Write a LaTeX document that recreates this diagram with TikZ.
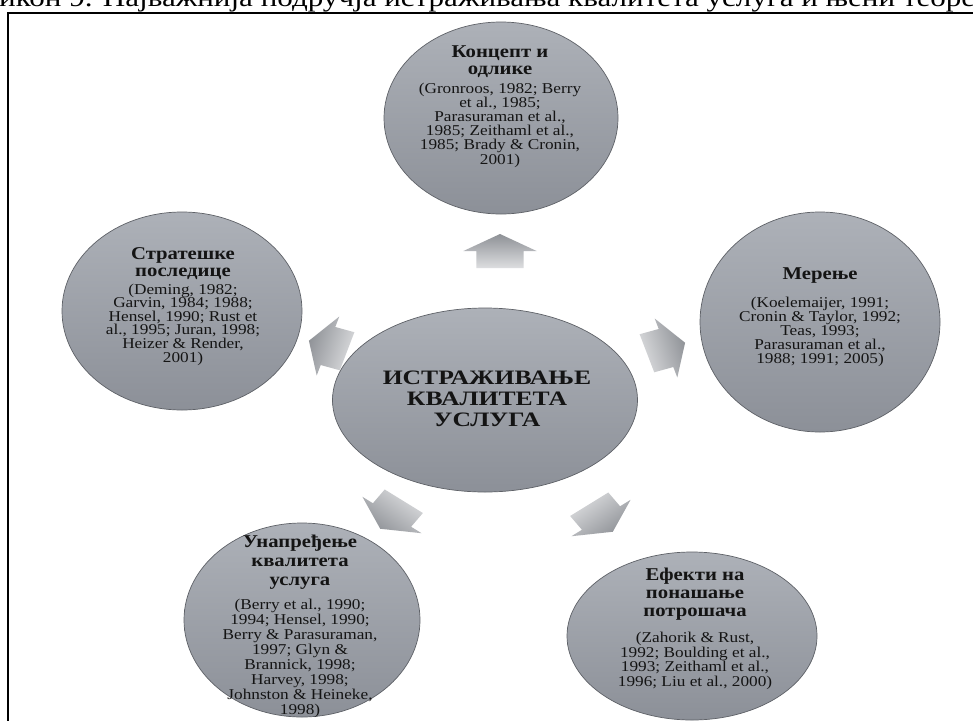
\documentclass[tikz,border=0pt]{standalone}
\usepackage{fontspec}
\setmainfont{Liberation Serif}[FakeStretch=1.15]
\newfontfamily\widefont{Liberation Serif}[FakeStretch=1.25]
\usetikzlibrary{shapes.geometric}
\definecolor{ellA}{HTML}{ADB1B8}
\definecolor{ellB}{HTML}{8C9098}
\definecolor{ellLine}{HTML}{5E6167}
\definecolor{arrDark}{HTML}{8E9196}
\definecolor{arrLight}{HTML}{DDDEE0}
\definecolor{ink}{HTML}{141414}
\newcommand{\radarrow}[3]{%
  \begin{scope}[shift={(#1,#2)}, xscale=1.18, rotate=#3]
    \shade[top color=arrDark, bottom color=arrLight, shading angle=#3-90]
      (17,0) -- (0,31) -- (0,20) -- (-17,20) -- (-17,-20) -- (0,-20) -- (0,-31) -- cycle;
  \end{scope}}
\begin{document}
\begin{tikzpicture}[x=1pt,y=-1pt,
  bubble/.style={ellipse, draw=ellLine, line width=0.7pt, top color=ellA, bottom color=ellB, inner sep=0pt},
  hd/.style={align=center, inner sep=0pt, text=ink, anchor=base},
  refs/.style={align=center, inner sep=0pt, text=ink, anchor=base},
  ]
\useasboundingbox (0,0) rectangle (973,720);
\clip (0,0) rectangle (973,720);
\fill[white] (0,0) rectangle (973,720);
% caption (cut at top)
\node (caption) [anchor=base west, inner sep=0pt, text=black] at (-1,6)
  {\resizebox{976pt}{\height}{\fontsize{26}{26}\selectfont икон 9. Најважнија подручја истраживања квалитета услуга и њени теоре}};
% frame
\draw[line width=2pt] (8,13) rectangle (990,740);
% ellipses
\node (concept) [bubble, minimum width=234pt, minimum height=192pt] at (501,118) {};
\node (measure) [bubble, minimum width=240pt, minimum height=220pt] at (820,322) {};
\node (strat) [bubble, minimum width=240pt, minimum height=198pt] at (182,311) {};
\node (center) [bubble, minimum width=305pt, minimum height=184pt] at (485,400) {};
\node (improve) [bubble, minimum width=236pt, minimum height=194pt] at (302,620) {};
\node (effect) [bubble, minimum width=250pt, minimum height=168pt] at (692,636) {};
% arrows
\radarrow{500}{251}{90}
\radarrow{666}{348}{18}
\radarrow{328}{346}{162}
\radarrow{601}{518}{-54}
\radarrow{392}{515}{-126}
% texts (anchor = baseline of last line)
\node (tc) [hd, font=\fontsize{18}{17}\bfseries\selectfont] at (500,74) {Концепт и\\одлике};
\node (rc) [refs, font=\fontsize{15}{14.2}\selectfont] at (500,164) {(Gronroos, 1982; Berry\\et al., 1985;\\Parasuraman et al.,\\1985; Zeithaml et al.,\\1985; Brady \& Cronin,\\2001)};
\node (tm) [hd, font=\fontsize{18}{17}\bfseries\selectfont] at (820,279) {Мерење};
\node (rm) [refs, font=\fontsize{15}{14}\selectfont] at (820,363) {(Koelemaijer, 1991;\\Cronin \& Taylor, 1992;\\Teas, 1993;\\Parasuraman et al.,\\1988; 1991; 2005)};
\node (ts) [hd, font=\fontsize{18}{17}\bfseries\selectfont] at (183,276) {Стратешке\\последице};
\node (rs) [refs, font=\fontsize{15}{13.6}\selectfont] at (183,362) {(Deming, 1982;\\Garvin, 1984; 1988;\\Hensel, 1990; Rust et\\al., 1995; Juran, 1998;\\Heizer \& Render,\\2001)};
\node (tcent) [hd, font=\fontsize{20.5}{21}\widefont\bfseries\selectfont] at (487,426) {ИСТРАЖИВАЊЕ\\КВАЛИТЕТА\\УСЛУГА};
\node (ti) [hd, font=\fontsize{18}{19}\bfseries\selectfont] at (300,585) {Унапређење\\квалитета\\услуга};
\node (ri) [refs, font=\fontsize{15}{15}\selectfont] at (300,714) {(Berry et al., 1990;\\1994; Hensel, 1990;\\Berry \& Parasuraman,\\1997; Glyn \&\\Brannick, 1998;\\Harvey, 1998;\\Johnston \& Heineke,\\1998)};
\node (te) [hd, font=\fontsize{18}{18}\bfseries\selectfont] at (695,616) {Ефекти на\\понашање\\потрошача};
\node (re) [refs, font=\fontsize{15}{14.5}\selectfont] at (695,686) {(Zahorik \& Rust,\\1992; Boulding et al.,\\1993; Zeithaml et al.,\\1996; Liu et al., 2000)};
\end{tikzpicture}
\end{document}
